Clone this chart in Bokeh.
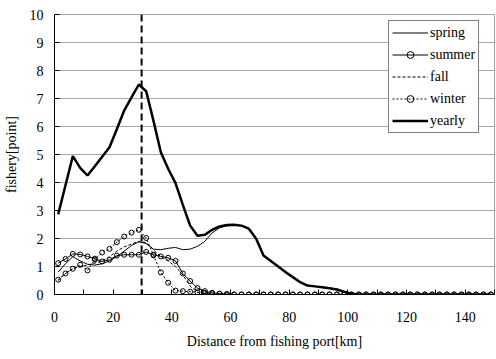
from bokeh.plotting import figure
from bokeh.models import Range1d, FixedTicker, Span, Legend, LegendItem
from bokeh.embed import file_html
from bokeh.resources import INLINE

distance_km = [1.25, 3.75, 6.25, 8.75, 11.25, 13.75, 16.25, 18.75, 21.25, 23.75,
               26.25, 28.75, 31.25, 33.75, 36.25, 38.75, 41.25, 43.75, 46.25, 48.75,
               51.25, 53.75, 56.25, 58.75, 61.25, 63.75, 66.25, 68.75, 71.25, 73.75,
               76.25, 78.75, 81.25, 83.75, 86.25, 88.75, 91.25, 93.75, 96.25, 98.75,
               101.25, 103.75, 106.25, 108.75, 111.25, 113.75, 116.25, 118.75, 121.25, 123.75,
               126.25, 128.75, 131.25, 133.75, 136.25, 138.75, 141.25, 143.75, 146.25, 148.75]

spring = [0.8, 1.1, 1.35, 1.2, 1.08, 1.05, 1.1, 1.2, 1.35, 1.55,
          1.75, 1.88, 1.82, 1.62, 1.6, 1.65, 1.68, 1.6, 1.62, 1.72,
          1.9, 2.2, 2.38, 2.45, 2.47, 2.45, 2.35, 1.99, 1.39, 1.2,
          1.0, 0.8, 0.62, 0.44, 0.32, 0.29, 0.26, 0.22, 0.18, 0.1,
          0.03, 0, 0, 0, 0, 0, 0, 0, 0, 0,
          0, 0, 0, 0, 0, 0, 0, 0, 0, 0]

summer = [1.12, 1.27, 1.45, 1.43, 1.36, 1.28, 1.18, 1.24, 1.39, 1.42,
          1.42, 1.42, 1.52, 1.42, 1.36, 1.31, 1.2, 0.75, 0.48, 0.23,
          0.12, 0.06, 0.03, 0.02, 0, 0, 0, 0, 0, 0,
          0, 0, 0, 0, 0, 0, 0, 0, 0, 0,
          0, 0, 0, 0, 0, 0, 0, 0, 0, 0,
          0, 0, 0, 0, 0, 0, 0, 0, 0, 0]

fall = [0.5, 0.75, 0.92, 1.0, 1.05, 1.12, 1.2, 1.35, 1.55, 1.7,
        1.8, 1.9, 1.85, 1.6, 1.35, 1.2, 1.0, 0.7, 0.3, 0.08,
        0.04, 0.02, 0, 0, 0, 0, 0, 0, 0, 0,
        0, 0, 0, 0, 0, 0, 0, 0, 0, 0,
        0, 0, 0, 0, 0, 0, 0, 0, 0, 0,
        0, 0, 0, 0, 0, 0, 0, 0, 0, 0]

winter = [0.53, 0.75, 0.92, 1.06, 0.86, 1.25, 1.5, 1.63, 1.87, 2.07,
          2.21, 2.31, 2.02, 1.4, 0.79, 0.42, 0.14, 0.12, 0.1, 0.08,
          0.06, 0.04, 0.02, 0, 0, 0, 0, 0, 0, 0,
          0, 0, 0, 0, 0, 0, 0, 0, 0, 0,
          0, 0, 0, 0, 0, 0, 0, 0, 0, 0,
          0, 0, 0, 0, 0, 0, 0, 0, 0, 0]

yearly = [2.86, 3.9, 4.94, 4.52, 4.25, 4.58, 4.92, 5.26, 5.9, 6.57,
          7.04, 7.5, 7.26, 6.2, 5.08, 4.49, 3.98, 3.2, 2.46, 2.1,
          2.13, 2.31, 2.43, 2.48, 2.49, 2.46, 2.35, 1.99, 1.39, 1.2,
          1.0, 0.8, 0.62, 0.44, 0.32, 0.29, 0.26, 0.22, 0.18, 0.1,
          0.03, 0, 0, 0, 0, 0, 0, 0, 0, 0,
          0, 0, 0, 0, 0, 0, 0, 0, 0, 0]

peak_distance = 29.7
x_ticks = [0, 10, 20, 30, 40, 50, 60, 70, 80, 90, 100, 110, 120, 130, 140, 150]
x_labels = {0: "0", 20: "20", 40: "40", 60: "60", 80: "80", 100: "100", 120: "120", 140: "140"}
y_ticks = [0, 1, 2, 3, 4, 5, 6, 7, 8, 9, 10]

FONT = "Liberation Serif"

p = figure(width=496, height=359, output_backend="svg", toolbar_location=None,
           x_range=Range1d(0, 150), y_range=Range1d(0, 10),
           min_border_left=53, min_border_right=2, min_border_top=14, min_border_bottom=65)
p.background_fill_color = "white"
p.border_fill_color = "white"
p.outline_line_color = "#a0a0a0"
p.outline_line_width = 1

p.xgrid.visible = False
p.ygrid.grid_line_color = "#a8a8a8"
p.ygrid.grid_line_width = 1

p.xaxis.ticker = FixedTicker(ticks=x_ticks)
p.xaxis.major_label_overrides = {t: x_labels.get(t, "") for t in x_ticks}
p.yaxis.ticker = FixedTicker(ticks=y_ticks)

for ax in (p.xaxis[0], p.yaxis[0]):
    ax.axis_line_color = "black"
    ax.axis_line_width = 1
    ax.major_tick_in = 5
    ax.major_tick_out = 0
    ax.major_tick_line_color = "black"
    ax.minor_tick_line_color = None
    ax.major_label_text_font = FONT
    ax.major_label_text_font_size = "14px"
    ax.major_label_text_color = "black"
    ax.axis_label_text_font = FONT
    ax.axis_label_text_font_size = "14px"
    ax.axis_label_text_font_style = "normal"
    ax.axis_label_text_color = "black"

p.xaxis.axis_label = "Distance from fishing port[km]"
p.yaxis.axis_label = "fishery[point]"
p.xaxis.major_label_standoff = 17
p.xaxis.axis_label_standoff = 9
p.yaxis.major_label_standoff = 11
p.yaxis.axis_label_standoff = 8

r_spring = p.line(distance_km, spring, line_color="black", line_width=1)
r_fall = p.line(distance_km, fall, line_color="black", line_width=1, line_dash="3 2")
r_winter = p.line(distance_km, winter, line_color="black", line_width=1, line_dash="2 2")
r_winter_m = p.scatter(distance_km, winter, marker="circle", size=5, fill_alpha=0,
                       line_color="black", line_width=1)
r_summer = p.line(distance_km, summer, line_color="black", line_width=1)
r_summer_m = p.scatter(distance_km, summer, marker="circle", size=5, fill_alpha=0,
                       line_color="black", line_width=1)
r_yearly = p.line(distance_km, yearly, line_color="black", line_width=2.5)

span = Span(location=peak_distance, dimension="height", line_color="black",
            line_width=2, line_dash="7 4")
p.add_layout(span)

legend = Legend(items=[
    LegendItem(label="spring", renderers=[r_spring]),
    LegendItem(label="summer", renderers=[r_summer, r_summer_m]),
    LegendItem(label="fall", renderers=[r_fall]),
    LegendItem(label="winter", renderers=[r_winter, r_winter_m]),
    LegendItem(label="yearly", renderers=[r_yearly]),
], location=(334, 161))
legend.border_line_color = "black"
legend.border_line_width = 1
legend.background_fill_color = "white"
legend.background_fill_alpha = 1
legend.padding = 3
legend.spacing = 5
legend.margin = 0
legend.glyph_width = 36
legend.glyph_height = 17
legend.label_height = 17
legend.label_standoff = 2
legend.label_text_font = FONT
legend.label_text_font_size = "14px"
legend.label_text_color = "black"
p.add_layout(legend)

open("out.html", "w").write(file_html(p, INLINE))
